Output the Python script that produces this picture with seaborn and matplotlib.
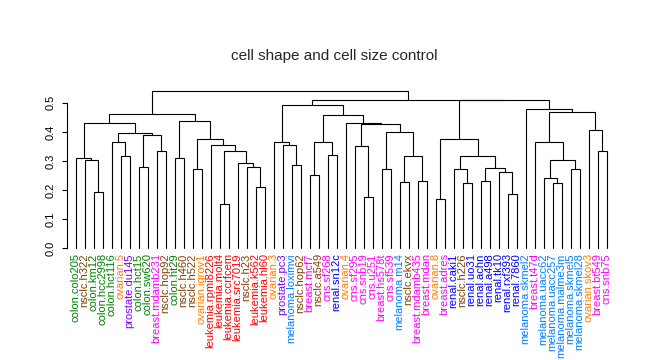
import matplotlib
matplotlib.use("Agg")
import matplotlib.pyplot as plt
import seaborn as sns

title = "cell shape and cell size control"

# leaf order as drawn, left to right
leaf_labels = [
    "colon.colo205", "nsclc.h322", "colon.km12", "colon.hcc2998", "colon.hct116",
    "ovarian.5", "prostate.du145", "colon.hct15", "colon.sw620", "breast.mdamb231",
    "nsclc.hop92", "colon.ht29", "nsclc.h460", "nsclc.h522", "ovarian.igrov1",
    "leukemia.rpmi8226", "leukemia.molt4", "leukemia.ccrfcem", "leukemia.src7019", "nsclc.h23",
    "leukemia.k562", "leukemia.hl60", "ovarian.3", "prostate.pc3", "melanoma.loximvi",
    "nsclc.hop62", "breast.mcf7", "nsclc.a549", "cns.sf268", "renal.sn12c",
    "ovarian.4", "cns.sf295", "cns.snb19", "cns.u251", "breast.hs578t",
    "cns.sf539", "melanoma.m14", "nsclc.ekvx", "breast.mdamb435", "breast.mdan",
    "ovarian.8", "breast.adres", "renal.caki1", "nsclc.h226", "renal.uo31",
    "renal.achn", "renal.a498", "renal.tk10", "renal.rxf393", "renal.7860",
    "melanoma.skmel2", "breast.t47d", "melanoma.uacc62", "melanoma.uacc257", "melanoma.malme3m",
    "melanoma.skmel5", "melanoma.skmel28", "ovarian.skov3", "breast.bt549", "cns.snb75",
]

# merges: ids 0..59 are leaves, merge k creates node 60 + k
merge_left = [
    2, 1, 0, 5, 4, 7, 9, 65, 64, 62,
    11, 13, 16, 20, 19, 18, 72, 15, 71, 70,
    69, 24, 23, 22, 26, 28, 84, 32, 31, 34,
    36, 38, 90, 89, 88, 30, 86, 83, 40, 43,
    42, 45, 48, 47, 101, 100, 98, 53, 52, 55,
    108, 51, 58, 57, 111, 50, 106, 97, 80,
]
merge_right = [
    3, 60, 61, 6, 63, 8, 10, 66, 67, 68,
    12, 14, 17, 21, 73, 74, 75, 76, 77, 78,
    79, 25, 81, 82, 27, 29, 85, 33, 87, 35,
    37, 39, 91, 92, 93, 94, 95, 96, 41, 44,
    99, 46, 49, 102, 103, 104, 105, 54, 107, 56,
    109, 110, 59, 112, 113, 114, 115, 116, 117,
]
merge_height = [
    0.192, 0.302, 0.312, 0.316, 0.367, 0.281, 0.336, 0.388, 0.395, 0.429,
    0.309, 0.271, 0.154, 0.209, 0.278, 0.292, 0.336, 0.354, 0.374, 0.436,
    0.460, 0.285, 0.354, 0.367, 0.251, 0.319, 0.364, 0.178, 0.350, 0.271,
    0.227, 0.230, 0.316, 0.398, 0.426, 0.432, 0.458, 0.494, 0.168, 0.223,
    0.271, 0.233, 0.185, 0.261, 0.275, 0.316, 0.374, 0.223, 0.240, 0.271,
    0.302, 0.367, 0.333, 0.408, 0.470, 0.477, 0.508, 0.511, 0.542,
]

y_ticks = [0.0, 0.1, 0.2, 0.3, 0.4, 0.5]

tissue_colors = {
    "colon": "#008000",
    "nsclc": "#804000",
    "ovarian": "#FF8000",
    "prostate": "#8000FF",
    "breast": "#FF00FF",
    "cns": "#FF00FF",
    "leukemia": "#FF0000",
    "melanoma": "#0080FF",
    "renal": "#0000FF",
}

sns.set_style("ticks")
plt.rcParams["font.family"] = ["Liberation Sans", "DejaVu Sans"]

fig = plt.figure(figsize=(6.47, 3.6), dpi=100)
ax = fig.add_axes([0.1031, 0.294, 0.8485, 0.469])

pos = {i: i + 1 for i in range(len(leaf_labels))}
hgt = {i: 0.0 for i in range(len(leaf_labels))}
n = len(leaf_labels)
for k, (l, r, h) in enumerate(zip(merge_left, merge_right, merge_height)):
    xl, xr = pos[l], pos[r]
    ax.plot([xl, xl, xr, xr], [hgt[l], h, h, hgt[r]], color="black", lw=0.8,
            solid_joinstyle="miter")
    pos[n + k] = (xl + xr) / 2
    hgt[n + k] = h

for i, lab in enumerate(leaf_labels):
    ax.text(i + 1, -0.017, lab, rotation=90, ha="center", va="top",
            fontsize=8, color=tissue_colors[lab.split(".")[0]])

ax.set_xlim(0, n + 1)
ax.set_ylim(-0.02, 0.56)
ax.set_xticks([])
ax.set_yticks(y_ticks)
ax.set_yticklabels([f"{v:.1f}" for v in y_ticks], rotation=90, va="center")
ax.tick_params(axis="y", length=3.6, width=0.8, pad=4.5, labelsize=8,
               color="black", labelcolor="black")
sns.despine(ax=ax, bottom=True)
ax.spines["left"].set_bounds(0, 0.5)
ax.spines["left"].set_linewidth(0.8)
ax.spines["left"].set_color("black")
ax.patch.set_alpha(0)

fig.text(334.5 / 647, 1 - 60 / 360, title, ha="center", va="baseline", fontsize=11)

fig.savefig("out.png", dpi=100, facecolor="white")
